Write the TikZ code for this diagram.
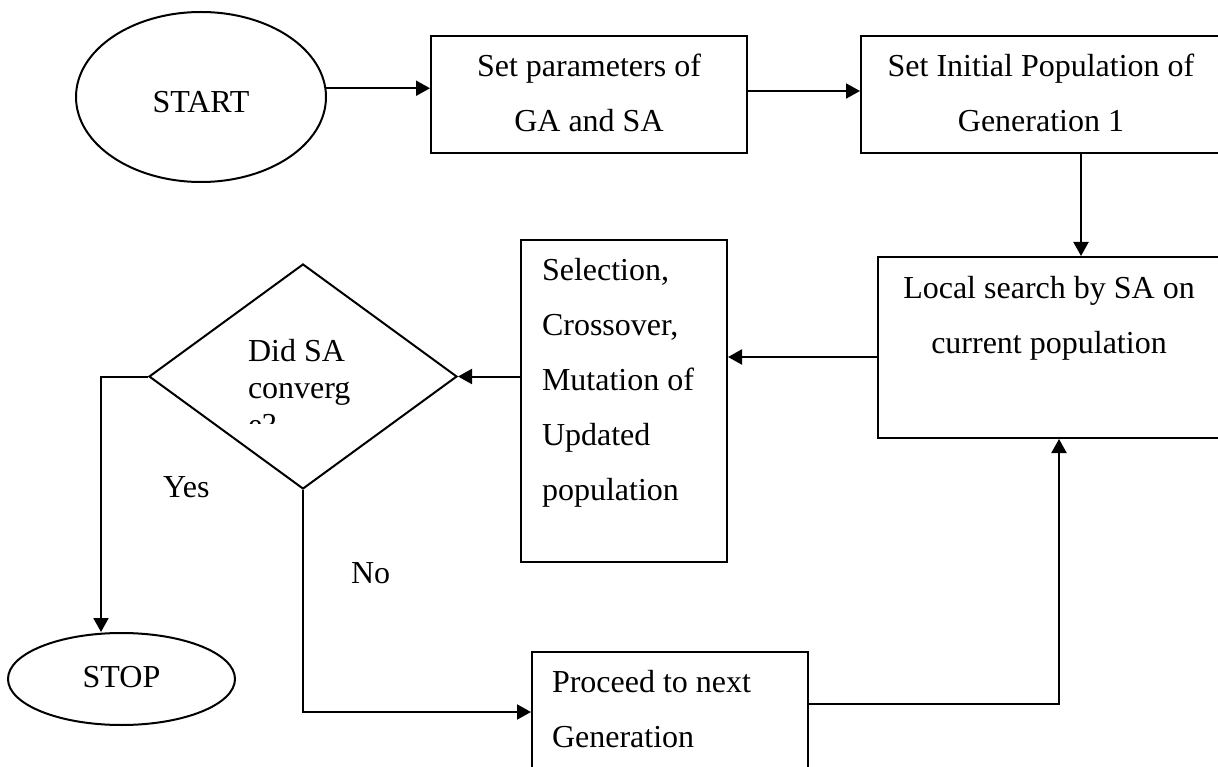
\documentclass[tikz,border=0pt]{standalone}
\usepackage{fontspec}
\setmainfont{Liberation Serif}
\usetikzlibrary{shapes.geometric,arrows.meta,calc}
\newcommand\bxc[3]{\parbox[c][#2][t]{#1}{\centering\rule{0pt}{41pt}#3}}
\newcommand\bxl[4]{\parbox[c][#2][t]{#1}{\raggedright\leftskip=#3\relax\rule{0pt}{40pt}#4}}
\begin{document}
\begin{tikzpicture}[x=1pt,y=-1pt, line width=2pt,
  flow/.style={-{Triangle[length=14pt,width=15pt]}},
  boxnode/.style={draw, rectangle, inner sep=0pt, font=\fontsize{32}{55}\selectfont},
  oval/.style={draw, ellipse, inner sep=0pt, font=\fontsize{32}{38}\selectfont},
  lbl/.style={inner sep=0pt, anchor=base west, font=\fontsize{32}{38}\selectfont}]
\useasboundingbox (0,0) rectangle (1218,767);
\clip (0,0) rectangle (1218,767);
\fill[white] (0,0) rectangle (1218,767);

\node[oval, minimum width=250pt, minimum height=170pt, text height=32pt, text depth=0pt] (start) at (201,97) {START};
\node[boxnode] (b1) at (589,94.5) {\bxc{316pt}{117pt}{Set parameters of\\GA and SA}};
\node[boxnode] (b2) at (1041,94.5) {\bxc{360pt}{117pt}{Set Initial Population of\\Generation 1}};
\node[boxnode] (b3) at (1049,347.5) {\bxc{342pt}{181pt}{Local search by SA on\\current population}};
\node[boxnode] (b4) at (624,401) {\bxl{206pt}{322pt}{21pt}{Selection,\\Crossover,\\Mutation of\\Updated\\population}};
\node[boxnode] (b5) at (670,726) {\bxl{276pt}{148pt}{20pt}{Proceed to next\\Generation}};
\node[draw, diamond, minimum width=308pt, minimum height=225pt, inner sep=0pt] (dec) at (303,376.5) {};
\begin{scope}
  \clip (150,264) rectangle (457,423);
  \node[anchor=north west, inner sep=0pt, font=\fontsize{32}{37}\selectfont] (dtext) at (247,336)
    {\parbox[t]{160pt}{\raggedright\rule{0pt}{24pt}Did SA\\converg\\e?}};
\end{scope}
\node[oval, minimum width=227pt, minimum height=92pt, text height=16pt, text depth=0pt] (stop) at (121.5,679) {STOP};
\node[lbl] (yes) at (162,497) {Yes};
\node[lbl] (no) at (350,583) {No};

\coordinate (yturn) at (101,376.5);
\draw[flow] (start.4) -- (start.4 -| b1.west);
\draw[flow] ([yshift=3.5pt]b1.east) -- ([yshift=3.5pt]b1.east -| b2.west);
\draw[flow] ([xshift=40pt]b2.south) -- ([xshift=40pt]b2.south |- b3.north);
\draw[flow] ([yshift=-9.5pt]b3.west) -- ([yshift=-9.5pt]b3.west -| b4.east);
\draw[flow] (dec.east -| b4.west) -- (dec.east);
\draw[flow] (dec.west) -- (yturn) -- (yturn |- stop.north);
\draw[flow] (dec.south) |- ([yshift=14pt]b5.west);
\draw[flow] ([yshift=22pt]b5.east) -| ([xshift=10pt]b3.south);
\end{tikzpicture}
\end{document}
